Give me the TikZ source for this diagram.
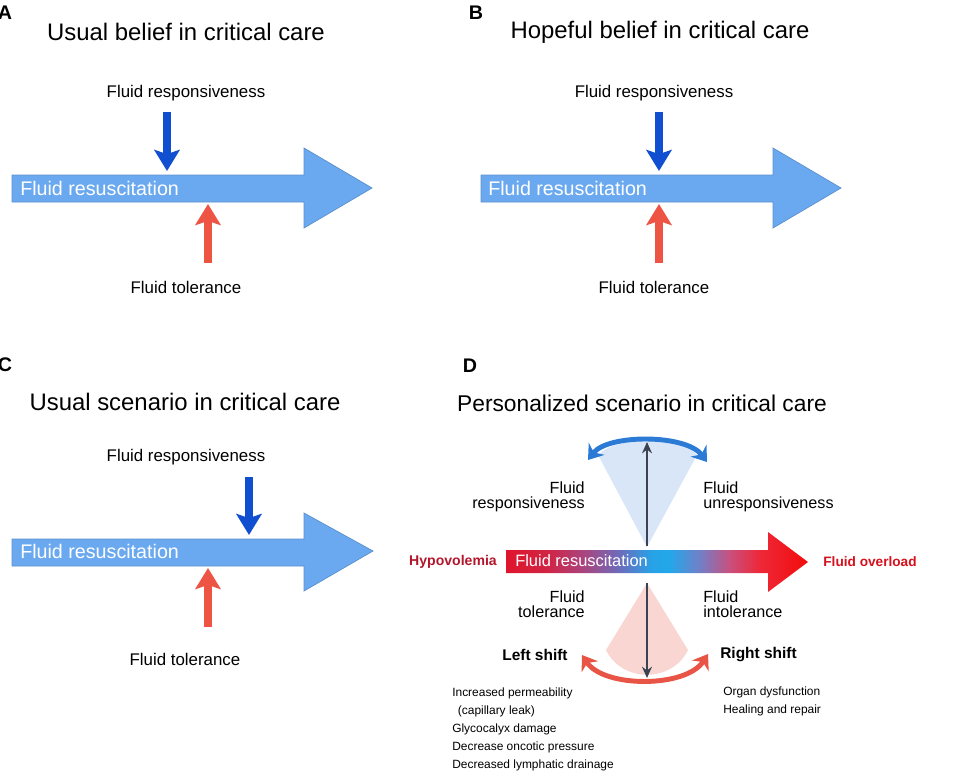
\documentclass[tikz,border=0pt]{standalone}
\usepackage{fontspec}
\setmainfont{Liberation Sans}
\usepackage{xcolor}
\usetikzlibrary{arrows.meta}
\usetikzlibrary{calc}
\usetikzlibrary{positioning}

\definecolor{barblue}{HTML}{6AA9EF}
\definecolor{respblue}{HTML}{1050D0}
\definecolor{tolred}{HTML}{EE5443}
\definecolor{arcblue}{HTML}{2B7BD6}
\definecolor{arcred}{HTML}{E85445}
\definecolor{darkline}{HTML}{3B4352}
\definecolor{conebl}{HTML}{D8E6F7}
\definecolor{conepk}{HTML}{F9D6D1}
\definecolor{hypored}{HTML}{B3162B}
\definecolor{overred}{HTML}{D6101C}
\definecolor{grA}{HTML}{E0142C}
\definecolor{grB}{HTML}{D02545}
\definecolor{grC}{HTML}{A84580}
\definecolor{grD}{HTML}{6A6EBE}
\definecolor{grE}{HTML}{28A2E6}
\definecolor{grF}{HTML}{22A8EA}
\definecolor{grG}{HTML}{7080C8}
\definecolor{grH}{HTML}{C8507E}
\definecolor{grI}{HTML}{EE2838}
\definecolor{grJ}{HTML}{F20C0C}

\pgfdeclarehorizontalshading{fluidgrad}{100bp}{color(0bp)=(grA); color(25bp)=(grA);
  color(32bp)=(grB); color(38bp)=(grC); color(44bp)=(grD); color(49bp)=(grE);
  color(52bp)=(grF); color(57bp)=(grG); color(62bp)=(grH); color(67bp)=(grI);
  color(75bp)=(grJ); color(100bp)=(grJ)}

\tikzset{
  paneltag/.style={font=\fontsize{14}{16}\selectfont\bfseries, inner sep=0},
  paneltitle/.style={font=\fontsize{17}{20}\selectfont, inner sep=0},
  txtlbl/.style={font=\fontsize{12}{14}\selectfont, inner sep=0},
  bartext/.style={font=\fontsize{14}{16}\selectfont, text=white, inner sep=0, anchor=west},
  bigbar/.style={fill=barblue, draw=barblue!85!black, line width=0.5pt},
  resparrow/.style={draw=respblue, line width=5pt, -{Stealth[length=15pt,width=18pt,inset=3pt]}},
  tolarrow/.style={draw=tolred, line width=5pt, -{Stealth[length=15pt,width=18pt,inset=3pt]}},
  darkarr/.style={draw=darkline, line width=1.6pt, -{Stealth[length=8pt,width=7pt]}},
  bluearc/.style={draw=arcblue, line width=3.5pt, {Stealth[length=10pt,width=14pt]}-{Stealth[length=10pt,width=14pt]}},
  redarc/.style={draw=arcred, line width=3.5pt, {Stealth[length=10pt,width=14pt]}-{Stealth[length=10pt,width=14pt]}},
  twoline/.style={font=\fontsize{11.5}{11}\selectfont, inner sep=0},
  shifttext/.style={font=\fontsize{11}{13}\selectfont\bfseries, inner sep=0},
  smalllist/.style={font=\fontsize{8.5}{12.8}\selectfont, inner sep=0, align=left},
}

\begin{document}
\begin{tikzpicture}[x=0.025cm, y=-0.025cm]
  \useasboundingbox (0,0) rectangle (960,779);

  % A
  \node[paneltag] (tagA) at (5,13) {A};
  \node[paneltitle] (titleA) at (186,32) {Usual belief in critical care};
  \node[txtlbl] (respA) at (186,93) {Fluid responsiveness};
  \draw[bigbar] (12,175) -- (304,175) -- (304,148) -- (372,188) -- (304,228) -- (304,202) -- (12,202) -- cycle;
  \node[bartext] (barA) at (20,188) {Fluid resuscitation};
  \coordinate (respAtop) at (167,112);
  \coordinate (respAend) at (167,171);
  \coordinate (tolAbot) at (208,263);
  \coordinate (tolAend) at (208,204);
  \draw[resparrow] (respAtop) -- (respAend);
  \draw[tolarrow] (tolAbot) -- (tolAend);
  \node[txtlbl] (tolA) at (186,287) {Fluid tolerance};

  % B
  \node[paneltag] (tagB) at (476,13) {B};
  \node[paneltitle] (titleB) at (660,32) {Hopeful belief in critical care};
  \node[txtlbl] (respB) at (654,93) {Fluid responsiveness};
  \draw[bigbar] (481,175) -- (773,175) -- (773,148) -- (841,188) -- (773,228) -- (773,202) -- (481,202) -- cycle;
  \node[bartext] (barB) at (488,188) {Fluid resuscitation};
  \coordinate (respBtop) at (659,112);
  \coordinate (respBend) at (659,171);
  \coordinate (tolBbot) at (659,263);
  \coordinate (tolBend) at (659,204);
  \draw[resparrow] (respBtop) -- (respBend);
  \draw[tolarrow] (tolBbot) -- (tolBend);
  \node[txtlbl] (tolB) at (654,287) {Fluid tolerance};

  % C
  \node[paneltag] (tagC) at (5,365) {C};
  \node[paneltitle] (titleC) at (185,402) {Usual scenario in critical care};
  \node[txtlbl] (respC) at (186,457) {Fluid responsiveness};
  \draw[bigbar] (12,539) -- (304,539) -- (304,513) -- (373,551) -- (304,591) -- (304,566) -- (12,566) -- cycle;
  \node[bartext] (barC) at (20,551) {Fluid resuscitation};
  \coordinate (respCtop) at (249,477);
  \coordinate (respCend) at (249,535);
  \coordinate (tolCbot) at (208,627);
  \coordinate (tolCend) at (208,568);
  \draw[resparrow] (respCtop) -- (respCend);
  \draw[tolarrow] (tolCbot) -- (tolCend);
  \node[txtlbl] (tolC) at (185,659) {Fluid tolerance};

  % D
  \node[paneltag] (tagD) at (470,366) {D};
  \node[paneltitle, font=\fontsize{16.2}{19}\selectfont] (titleD) at (642,403) {Personalized scenario in critical care};
  \fill[conebl] (647,547) -- (598,455) .. controls (615,436) and (680,436) .. (697,455) -- cycle;
  \fill[conepk] (647,583) -- (606,650) .. controls (622,683) and (672,683) .. (688,650) -- cycle;
  \shade[shading=fluidgrad] (506,550) -- (768,550) -- (768,532) -- (808,562) -- (768,592) -- (768,573) -- (506,573) -- cycle;
  \node[bartext, font=\fontsize{11.7}{14}\selectfont] (barD) at (515,561) {Fluid resuscitation};
  \node[font=\fontsize{10}{12}\selectfont\bfseries, text=hypored, inner sep=0] (hypo) at (453,562) {Hypovolemia};
  \node[font=\fontsize{9.7}{12}\selectfont\bfseries, text=overred, inner sep=0] (over) at (870,562) {Fluid overload};
  \coordinate (upbase) at (647,546);
  \coordinate (uptip) at (647,442);
  \coordinate (dnbase) at (647,583);
  \coordinate (dntip) at (647,678);
  \draw[darkarr] (upbase) -- (uptip);
  \draw[darkarr] (dnbase) -- (dntip);
  \coordinate (respL) at (588,460);
  \coordinate (respR) at (707,462);
  \coordinate (tolL) at (582,655);
  \coordinate (tolR) at (708,654);
  \draw[bluearc] (respL) .. controls (608,434) and (686,434) .. (respR);
  \draw[redarc] (tolL) .. controls (604,688) and (686,688) .. (tolR);
  \node[twoline, align=right, anchor=east] (respD) at (585,497) {Fluid\\responsiveness};
  \node[twoline, align=left, anchor=west] (unrespD) at (703,497) {Fluid\\unresponsiveness};
  \node[twoline, align=right, anchor=east] (tolD) at (585,604) {Fluid\\tolerance};
  \node[twoline, align=left, anchor=west] (intolD) at (703,604) {Fluid\\intolerance};
  \node[shifttext] (lshift) at (535,655) {Left shift};
  \node[shifttext, anchor=west] (rshift) at (720,655) {Right shift};
  \node[smalllist, anchor=north west] (lcause) at (452,688) {Increased permeability\\\hspace*{4pt}(capillary leak)\\Glycocalyx damage\\Decrease oncotic pressure\\Decreased lymphatic drainage};
  \node[smalllist, anchor=north west] (rcause) at (723,687) {Organ dysfunction\\Healing and repair};
\end{tikzpicture}
\end{document}
